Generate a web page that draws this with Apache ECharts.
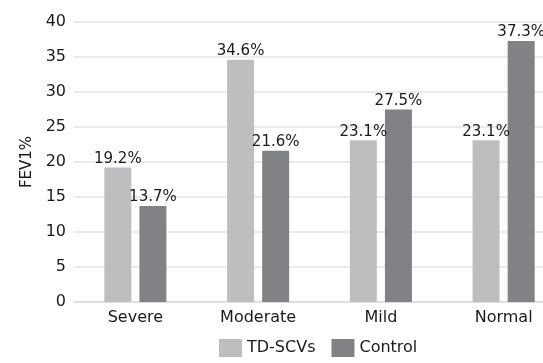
<!DOCTYPE html>
<html><head><meta charset="utf-8">
<script src="https://cdn.jsdelivr.net/npm/echarts@6/dist/echarts.min.js"></script>
<style>html,body{margin:0;padding:0;background:#fff}#c{width:543px;height:363px}</style>
</head><body><div id="c"></div>
<script>
var categories = ['Severe', 'Moderate', 'Mild', 'Normal'];
var tdscvs = [19.2, 34.6, 23.1, 23.1];
var control = [13.7, 21.6, 27.5, 37.3];
var seriesNames = ['TD-SCVs', 'Control'];
var yTitle = 'FEV1%';

var font = 'DejaVu Sans';
var chart = echarts.init(document.getElementById('c'), null, {renderer: 'canvas'});
var lbl = {show: true, position: 'top', formatter: function(p){return p.value.toFixed(1) + '%';}, color: '#1a1a1a', fontFamily: font, fontSize: 15, distance: 1};
chart.setOption({
  animation: false,
  grid: {left: 74, top: 22, width: 491, height: 280, containLabel: false, outerBoundsMode: 'none'},
  legend: {bottom: 1, left: 214, icon: 'rect', itemWidth: 23, itemHeight: 18, itemGap: 16,
    textStyle: {fontFamily: font, fontSize: 16, color: '#1a1a1a'}, data: seriesNames},
  xAxis: {type: 'category', data: categories,
    axisLine: {lineStyle: {color: '#dcdcdc', width: 1.5}}, axisTick: {show: false},
    axisLabel: {fontFamily: font, fontSize: 16, color: '#1a1a1a', margin: 8}},
  yAxis: {type: 'value', min: 0, max: 40, interval: 5, name: yTitle, nameLocation: 'middle', nameGap: 38,
    nameTextStyle: {fontFamily: font, fontSize: 15, color: '#1a1a1a'},
    axisLine: {show: false}, axisTick: {show: false},
    axisLabel: {fontFamily: font, fontSize: 16, color: '#1a1a1a', margin: 8},
    splitLine: {lineStyle: {color: '#e4e4e4', width: 1.5}}},
  series: [
    {name: seriesNames[0], type: 'bar', data: tdscvs, barWidth: 27, barGap: '30%', itemStyle: {color: '#bdbec0'}, label: lbl},
    {name: seriesNames[1], type: 'bar', data: control, barWidth: 27, itemStyle: {color: '#808285'}, label: lbl}
  ]
});
</script></body></html>
